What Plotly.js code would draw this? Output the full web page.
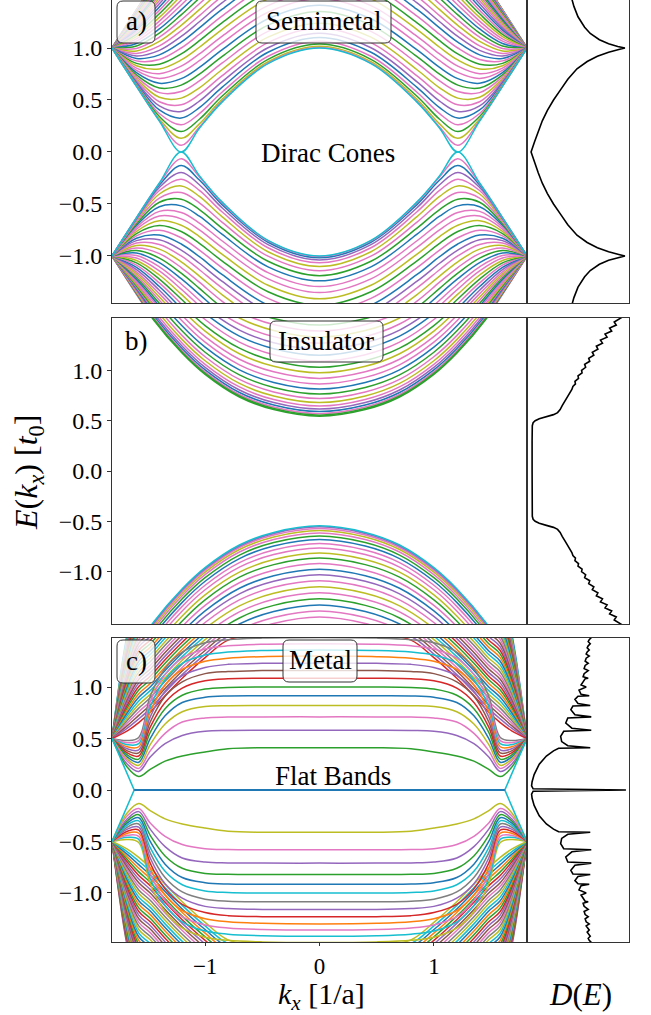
<!DOCTYPE html>
<html><head><meta charset="utf-8">
<script src="https://cdn.plot.ly/plotly-3.0.1.min.js"></script>
<style>html,body{margin:0;padding:0;background:#fff}#chart{width:651px;height:1015px}</style>
</head><body><div id="chart"></div>
<script>
// ================= DATA =================
// Bands are given at kx >= 0 nodes (the spectrum is symmetric in kx and in E).
// Panel a) Semimetal: upper bands, innermost first
const kxNodesA = [0, 0.45, 0.85, 1.05, 1.209, 1.4, 1.6, 1.814];
const bandsA = [
  [1.000, 0.850, 0.482, 0.228, 0.000, 0.298, 0.631, 1.0],
  [1.004, 0.855, 0.489, 0.240, 0.065, 0.303, 0.632, 1.0],
  [1.017, 0.868, 0.508, 0.270, 0.131, 0.318, 0.636, 1.0],
  [1.038, 0.891, 0.538, 0.315, 0.196, 0.341, 0.642, 1.0],
  [1.066, 0.921, 0.577, 0.369, 0.261, 0.370, 0.651, 1.0],
  [1.101, 0.959, 0.624, 0.427, 0.326, 0.404, 0.662, 1.0],
  [1.142, 1.002, 0.677, 0.489, 0.390, 0.443, 0.674, 1.0],
  [1.189, 1.051, 0.734, 0.553, 0.454, 0.483, 0.689, 1.0],
  [1.239, 1.104, 0.793, 0.617, 0.518, 0.526, 0.705, 1.0],
  [1.294, 1.160, 0.856, 0.683, 0.581, 0.571, 0.723, 1.0],
  [1.352, 1.220, 0.919, 0.748, 0.643, 0.616, 0.742, 1.0],
  [1.412, 1.281, 0.984, 0.813, 0.705, 0.661, 0.763, 1.0],
  [1.474, 1.344, 1.049, 0.878, 0.765, 0.707, 0.784, 1.0],
  [1.537, 1.408, 1.115, 0.943, 0.825, 0.753, 0.806, 1.0],
  [1.602, 1.473, 1.180, 1.007, 0.885, 0.799, 0.829, 1.0],
  [1.667, 1.539, 1.245, 1.070, 0.943, 0.844, 0.852, 1.0],
  [1.732, 1.604, 1.309, 1.132, 1.000, 0.889, 0.876, 1.0],
  [1.798, 1.669, 1.373, 1.193, 1.056, 0.934, 0.900, 1.0],
  [1.863, 1.734, 1.436, 1.252, 1.111, 0.977, 0.924, 1.0],
  [1.927, 1.798, 1.498, 1.311, 1.165, 1.020, 0.948, 1.0],
  [1.991, 1.861, 1.559, 1.369, 1.218, 1.063, 0.972, 1.0],
  [2.054, 1.924, 1.618, 1.425, 1.269, 1.104, 0.996, 1.0],
  [2.116, 1.985, 1.676, 1.479, 1.319, 1.144, 1.020, 1.0],
  [2.177, 2.045, 1.733, 1.532, 1.367, 1.183, 1.043, 1.0],
  [2.236, 2.103, 1.788, 1.584, 1.414, 1.222, 1.066, 1.0],
  [2.294, 2.160, 1.841, 1.634, 1.460, 1.259, 1.088, 1.0],
  [2.350, 2.215, 1.893, 1.682, 1.504, 1.294, 1.110, 1.0],
  [2.404, 2.268, 1.943, 1.729, 1.546, 1.329, 1.131, 1.0],
  [2.457, 2.320, 1.991, 1.773, 1.587, 1.362, 1.152, 1.0],
  [2.507, 2.369, 2.037, 1.816, 1.626, 1.394, 1.172, 1.0],
  [2.556, 2.416, 2.081, 1.857, 1.663, 1.425, 1.191, 1.0],
  [2.602, 2.462, 2.123, 1.896, 1.698, 1.454, 1.209, 1.0],
  [2.646, 2.505, 2.163, 1.933, 1.732, 1.481, 1.227, 1.0],
  [2.687, 2.545, 2.201, 1.968, 1.764, 1.507, 1.243, 1.0],
  [2.727, 2.584, 2.236, 2.001, 1.794, 1.532, 1.259, 1.0],
  [2.764, 2.620, 2.270, 2.032, 1.822, 1.555, 1.274, 1.0],
  [2.798, 2.653, 2.301, 2.061, 1.848, 1.576, 1.288, 1.0],
  [2.830, 2.684, 2.329, 2.087, 1.872, 1.596, 1.300, 1.0],
  [2.859, 2.713, 2.356, 2.111, 1.894, 1.614, 1.312, 1.0],
  [2.885, 2.738, 2.379, 2.133, 1.914, 1.631, 1.323, 1.0],
  [2.909, 2.762, 2.401, 2.153, 1.932, 1.645, 1.332, 1.0],
  [2.930, 2.782, 2.420, 2.171, 1.948, 1.659, 1.341, 1.0],
  [2.949, 2.800, 2.436, 2.186, 1.962, 1.670, 1.348, 1.0],
  [2.964, 2.815, 2.450, 2.199, 1.973, 1.680, 1.354, 1.0],
  [2.977, 2.828, 2.462, 2.209, 1.983, 1.688, 1.360, 1.0],
  [2.987, 2.837, 2.471, 2.218, 1.990, 1.694, 1.364, 1.0],
  [2.994, 2.843, 2.477, 2.224, 1.996, 1.698, 1.367, 1.0],
  [2.999, 2.849, 2.481, 2.227, 1.999, 1.701, 1.368, 1.0]
];
// Panel b) Insulator: upper bands, innermost first
const kxNodesB = [0, 0.4, 0.7, 1.0, 1.2, 1.45, 1.65, 1.814];
const bandsB = [
  [0.545, 0.610, 0.735, 0.960, 1.170, 1.500, 1.845, 2.145],
  [0.555, 0.620, 0.745, 0.970, 1.180, 1.510, 1.855, 2.155],
  [0.570, 0.635, 0.760, 0.985, 1.195, 1.525, 1.870, 2.170],
  [0.590, 0.655, 0.780, 1.005, 1.215, 1.545, 1.890, 2.190],
  [0.615, 0.680, 0.805, 1.030, 1.240, 1.570, 1.915, 2.215],
  [0.645, 0.710, 0.835, 1.060, 1.270, 1.600, 1.945, 2.245],
  [0.680, 0.745, 0.870, 1.095, 1.305, 1.635, 1.980, 2.280],
  [0.720, 0.785, 0.910, 1.135, 1.345, 1.675, 2.020, 2.320],
  [0.765, 0.830, 0.955, 1.180, 1.390, 1.720, 2.065, 2.365],
  [0.815, 0.880, 1.005, 1.230, 1.440, 1.770, 2.115, 2.415],
  [0.865, 0.930, 1.055, 1.280, 1.490, 1.820, 2.165, 2.465],
  [0.920, 0.985, 1.110, 1.335, 1.545, 1.875, 2.220, 2.520],
  [0.975, 1.040, 1.165, 1.390, 1.600, 1.930, 2.275, 2.575],
  [1.030, 1.095, 1.220, 1.445, 1.655, 1.985, 2.330, 2.630],
  [1.090, 1.155, 1.280, 1.505, 1.715, 2.045, 2.390, 2.690],
  [1.150, 1.215, 1.340, 1.565, 1.775, 2.105, 2.450, 2.750],
  [1.210, 1.275, 1.400, 1.625, 1.835, 2.165, 2.510, 2.810],
  [1.270, 1.335, 1.460, 1.685, 1.895, 2.225, 2.570, 2.870],
  [1.330, 1.395, 1.520, 1.745, 1.955, 2.285, 2.630, 2.930],
  [1.390, 1.455, 1.580, 1.805, 2.015, 2.345, 2.690, 2.990],
  [1.450, 1.515, 1.640, 1.865, 2.075, 2.405, 2.750, 3.050]
];
// Panel c) Metal: upper bands (Landau-like levels, then higher bands), innermost first
const kxNodesC = [0, 0.5, 0.8, 1.0, 1.2, 1.35, 1.48, 1.58, 1.68, 1.814];
const bandsC = [
  [0.41, 0.41, 0.40, 0.37, 0.33, 0.28, 0.20, 0.13, 0.22, 0.5],
  [0.58, 0.58, 0.578, 0.57, 0.53, 0.45, 0.32, 0.18, 0.25, 0.5],
  [0.71, 0.71, 0.708, 0.70, 0.66, 0.55, 0.38, 0.21, 0.28, 0.5],
  [0.82, 0.82, 0.818, 0.81, 0.76, 0.64, 0.44, 0.24, 0.30, 0.5],
  [0.915, 0.915, 0.913, 0.90, 0.85, 0.72, 0.50, 0.27, 0.32, 0.5],
  [1.0, 1.0, 0.995, 0.98, 0.92, 0.79, 0.56, 0.30, 0.34, 0.5],
  [1.085, 1.085, 1.08, 1.06, 0.99, 0.85, 0.61, 0.33, 0.36, 0.5],
  [1.16, 1.16, 1.15, 1.13, 1.05, 0.91, 0.66, 0.36, 0.38, 0.5],
  [1.23, 1.23, 1.22, 1.19, 1.11, 0.96, 0.71, 0.39, 0.40, 0.5],
  [1.30, 1.295, 1.28, 1.25, 1.17, 1.02, 0.76, 0.42, 0.42, 0.5],
  [1.36, 1.355, 1.34, 1.31, 1.23, 1.07, 0.81, 0.45, 0.44, 0.5],
  [1.42, 1.415, 1.40, 1.37, 1.28, 1.12, 0.86, 0.48, 0.46, 0.5],
  [1.48, 1.475, 1.46, 1.43, 1.34, 1.18, 0.91, 0.51, 0.48, 0.5],
  [1.535, 1.515, 1.455, 1.285, 1.085, 0.915, 0.755, 0.655, 0.575, 0.5],
  [1.57, 1.55, 1.49, 1.32, 1.12, 0.95, 0.79, 0.69, 0.60, 0.5],
  [1.605, 1.585, 1.525, 1.355, 1.155, 0.985, 0.825, 0.725, 0.625, 0.5],
  [1.64, 1.62, 1.56, 1.39, 1.19, 1.02, 0.86, 0.76, 0.65, 0.5],
  [1.675, 1.655, 1.595, 1.425, 1.225, 1.055, 0.895, 0.795, 0.675, 0.5],
  [1.71, 1.69, 1.63, 1.46, 1.26, 1.09, 0.93, 0.83, 0.70, 0.5],
  [1.745, 1.725, 1.665, 1.495, 1.295, 1.125, 0.965, 0.865, 0.725, 0.5],
  [1.78, 1.76, 1.70, 1.53, 1.33, 1.16, 1.00, 0.90, 0.75, 0.5],
  [1.815, 1.795, 1.735, 1.565, 1.365, 1.195, 1.035, 0.935, 0.775, 0.5],
  [1.85, 1.83, 1.77, 1.60, 1.40, 1.23, 1.07, 0.97, 0.80, 0.5],
  [1.885, 1.865, 1.805, 1.635, 1.435, 1.265, 1.105, 1.005, 0.825, 0.5],
  [1.92, 1.90, 1.84, 1.67, 1.47, 1.30, 1.14, 1.04, 0.85, 0.5],
  [1.955, 1.935, 1.875, 1.705, 1.505, 1.335, 1.175, 1.075, 0.875, 0.5],
  [1.99, 1.97, 1.91, 1.74, 1.54, 1.37, 1.21, 1.11, 0.90, 0.5],
  [2.025, 2.005, 1.945, 1.775, 1.575, 1.405, 1.245, 1.145, 0.925, 0.5],
  [2.06, 2.04, 1.98, 1.81, 1.61, 1.44, 1.28, 1.18, 0.95, 0.5],
  [2.095, 2.075, 2.015, 1.845, 1.645, 1.475, 1.315, 1.215, 0.975, 0.5],
  [2.13, 2.11, 2.05, 1.88, 1.68, 1.51, 1.35, 1.25, 1.00, 0.5],
  [2.165, 2.145, 2.085, 1.915, 1.715, 1.545, 1.385, 1.285, 1.025, 0.5],
  [2.20, 2.18, 2.12, 1.95, 1.75, 1.58, 1.42, 1.32, 1.05, 0.5],
  [2.235, 2.215, 2.155, 1.985, 1.785, 1.615, 1.455, 1.355, 1.075, 0.5],
  [2.27, 2.25, 2.19, 2.02, 1.82, 1.65, 1.49, 1.39, 1.10, 0.5],
  [2.305, 2.285, 2.225, 2.055, 1.855, 1.685, 1.525, 1.425, 1.125, 0.5],
  [2.34, 2.32, 2.26, 2.09, 1.89, 1.72, 1.56, 1.46, 1.15, 0.5],
  [2.375, 2.355, 2.295, 2.125, 1.925, 1.755, 1.595, 1.495, 1.175, 0.5],
  [2.41, 2.39, 2.33, 2.16, 1.96, 1.79, 1.63, 1.53, 1.20, 0.5],
  [2.445, 2.425, 2.365, 2.195, 1.995, 1.825, 1.665, 1.565, 1.225, 0.5],
  [2.48, 2.46, 2.40, 2.23, 2.03, 1.86, 1.70, 1.60, 1.25, 0.5],
  [2.515, 2.495, 2.435, 2.265, 2.065, 1.895, 1.735, 1.635, 1.275, 0.5],
  [2.55, 2.53, 2.47, 2.30, 2.10, 1.93, 1.77, 1.67, 1.30, 0.5],
  [2.585, 2.565, 2.505, 2.335, 2.135, 1.965, 1.805, 1.705, 1.325, 0.5],
  [2.62, 2.60, 2.54, 2.37, 2.17, 2.00, 1.84, 1.74, 1.35, 0.5],
  [2.655, 2.635, 2.575, 2.405, 2.205, 2.035, 1.875, 1.775, 1.375, 0.5],
  [2.69, 2.67, 2.61, 2.44, 2.24, 2.07, 1.91, 1.81, 1.40, 0.5],
  [2.725, 2.705, 2.645, 2.475, 2.275, 2.105, 1.945, 1.845, 1.43, 0.5],
  [2.76, 2.74, 2.68, 2.51, 2.31, 2.14, 1.98, 1.88, 1.46, 0.5],
  [2.795, 2.775, 2.715, 2.545, 2.345, 2.175, 2.015, 1.915, 1.49, 0.5],
  [2.83, 2.81, 2.75, 2.58, 2.38, 2.21, 2.05, 1.95, 1.52, 0.5]
];
const nLandau = 13; // first 13 rows of bandsC are the flat Landau-like levels
// Panel c) zero-energy flat band and its edge branches
const zeroK = [-1.814, -1.62, 1.62, 1.814];
const zeroE = [0.5, 0, 0, 0.5];

// Density of states D(E), given for E >= 0 (symmetric in E)
const dosA_E = [0, 0.1, 0.2, 0.3, 0.4, 0.5, 0.6, 0.7, 0.8, 0.87, 0.92, 0.96, 0.985, 1.0, 1.015, 1.04, 1.08, 1.14, 1.2, 1.3, 1.4, 1.47];
const dosA_D = [0.04, 0.075, 0.11, 0.15, 0.2, 0.26, 0.33, 0.40, 0.49, 0.59, 0.69, 0.80, 0.90, 0.96, 0.89, 0.80, 0.71, 0.62, 0.565, 0.50, 0.46, 0.44];
const dosB_E = [0, 0.3, 0.45, 0.48, 0.50, 0.52, 0.54, 0.56, 0.58, 0.61, 0.65, 0.70, 0.75, 0.78, 0.81, 0.84, 0.865, 0.89, 0.92, 0.945, 0.975, 1.0, 1.03, 1.06, 1.09, 1.12, 1.15, 1.18, 1.21, 1.24, 1.27, 1.30, 1.33, 1.36, 1.39, 1.42, 1.45, 1.48, 1.53];
const dosB_D = [0.05, 0.05, 0.052, 0.06, 0.08, 0.12, 0.19, 0.26, 0.30, 0.325, 0.345, 0.375, 0.405, 0.42, 0.44, 0.45, 0.475, 0.47, 0.505, 0.50, 0.54, 0.535, 0.575, 0.565, 0.615, 0.605, 0.655, 0.64, 0.695, 0.68, 0.74, 0.72, 0.785, 0.765, 0.83, 0.81, 0.875, 0.855, 0.935];
const dosC_E = [0, 0.012, 0.04, 0.08, 0.15, 0.25, 0.33, 0.38, 0.405, 0.41, 0.43, 0.47, 0.52, 0.57, 0.58, 0.60, 0.65, 0.70, 0.71, 0.73, 0.78, 0.815, 0.82, 0.84, 0.88, 0.91, 0.915, 0.93, 0.97, 1.0, 1.02, 1.05, 1.08, 1.085, 1.10, 1.13, 1.16, 1.18, 1.21, 1.23, 1.25, 1.28, 1.30, 1.32, 1.34, 1.36, 1.38, 1.40, 1.42, 1.44, 1.46, 1.48, 1.5];
const dosC_D = [0.97, 0.06, 0.045, 0.05, 0.07, 0.12, 0.19, 0.26, 0.31, 0.62, 0.40, 0.34, 0.33, 0.36, 0.63, 0.44, 0.38, 0.40, 0.63, 0.47, 0.43, 0.45, 0.62, 0.50, 0.47, 0.50, 0.61, 0.53, 0.51, 0.58, 0.53, 0.55, 0.57, 0.60, 0.55, 0.56, 0.60, 0.56, 0.57, 0.60, 0.57, 0.58, 0.61, 0.58, 0.59, 0.61, 0.59, 0.60, 0.62, 0.60, 0.61, 0.63, 0.62];

// Tick labels
const eTickVals = [-1, -0.5, 0, 0.5, 1];
const eTickText = ['\u22121.0', '\u22120.5', '0.0', '0.5', '1.0'];
const kTickVals = [-1, 0, 1];
const kTickText = ['\u22121', '0', '1'];

// Texts
const panelLabels = ['a)', 'b)', 'c)'];
const phaseNames = ['Semimetal', 'Insulator', 'Metal'];
const noteTexts = ['Dirac Cones', 'Flat Bands'];

// ================= STYLE =================
const FONT = "'Liberation Serif', 'Times New Roman', Times, serif";
const tab10 = ['#1f77b4','#ff7f0e','#2ca02c','#d62728','#9467bd','#8c564b','#e377c2','#7f7f7f','#bcbd22','#17becf'];
const cycAB = ['#e377c2','#bcbd22','#2ca02c','#e377c2','#1f77b4','#9467bd','#e377c2','#bcbd22','#e377c2','#2ca02c','#1f77b4','#e377c2'];
const cUpCols = ['#2ca02c','#9467bd','#e377c2','#bcbd22','#1f77b4','#2ca02c','#d62728','#8c564b','#9467bd','#ff7f0e','#17becf','#e377c2','#7f7f7f'];
const cDnCols = ['#bcbd22','#e377c2','#9467bd','#2ca02c','#1f77b4','#17becf','#7f7f7f','#9467bd','#d62728','#ff7f0e','#e377c2','#17becf','#bcbd22'];
const LW = 1.5;

// pixel -> paper helpers (plot area: x 112..629, y 0..942)
const PX = x => (x - 112) / 517;
const PY = y => (942 - y) / 942;

function fullK(nodes) { return nodes.slice(1).reverse().map(v => -v).concat(nodes); }
function fullE(vals, s) { return vals.slice(1).reverse().concat(vals).map(v => s * v); }

const traces = [];
function line(x, y, color, xa, ya, shape, w) {
  return {x: x, y: y, xaxis: xa, yaxis: ya, mode: 'lines', hoverinfo: 'skip', showlegend: false,
          line: {color: color, width: w || LW, shape: shape || 'spline', smoothing: 1}};
}
function addBands(bands, nodes, xa, ya, colUp, colDn) {
  const x = fullK(nodes);
  for (let i = bands.length - 1; i >= 0; i--) {
    traces.push(line(x, fullE(bands[i], -1), colDn(i), xa, ya));
    traces.push(line(x, fullE(bands[i], 1), colUp(i), xa, ya));
  }
}
addBands(bandsA, kxNodesA, 'x', 'y',
  i => i === 0 ? '#17becf' : cycAB[(i - 1) % cycAB.length],
  i => i === 0 ? '#17becf' : cycAB[(i + 2) % cycAB.length]);
addBands(bandsB, kxNodesB, 'x3', 'y3',
  i => i === 0 ? '#2ca02c' : cycAB[(i + 1) % cycAB.length],
  i => i === 0 ? '#17becf' : cycAB[(i + 4) % cycAB.length]);
addBands(bandsC, kxNodesC, 'x5', 'y5',
  i => i < nLandau ? cUpCols[i] : tab10[i % 10],
  i => i < nLandau ? cDnCols[i] : tab10[(i + 5) % 10]);
// zero modes
traces.push(line(zeroK, zeroE.map(v => -v), '#17becf', 'x5', 'y5', 'linear', 1.6));
traces.push(line(zeroK, zeroE, '#17becf', 'x5', 'y5', 'linear', 1.6));
traces.push(line(zeroK.slice(1, 3), zeroE.slice(1, 3), '#1f77b4', 'x5', 'y5', 'linear', 2));

function addDos(E, D, xa, ya) {
  const y = fullE(E, 1).map((v, i) => i < E.length - 1 ? -v : v);
  const x = D.slice(1).reverse().concat(D);
  traces.push(line(x, y, '#000', xa, ya, 'linear', 1.6));
}
addDos(dosA_E, dosA_D, 'x2', 'y2');
addDos(dosB_E, dosB_D, 'x4', 'y4');
addDos(dosC_E, dosC_D, 'x6', 'y6');

// ================= LAYOUT =================
const MAINX = [0, PX(527)], DOSX = [PX(527), 1];
const domA = [PY(303), 1], domB = [PY(624), PY(318)], domC = [0, PY(638)];
const rA = [-1.452, 1.4615], rB = [-1.52, 1.52], rC = [-1.476, 1.476];
const frame = {showline: true, mirror: true, linecolor: '#333', linewidth: 1, zeroline: false, showgrid: false, fixedrange: true};
function mainY(dom, r, anchor) {
  return Object.assign({}, frame, {domain: dom, range: r, anchor: anchor, tickmode: 'array', tickvals: eTickVals, ticktext: eTickText,
    ticks: 'outside', ticklen: 4, tickcolor: '#333', tickfont: {family: FONT, size: 24, color: '#000'}});
}
function plainAx(dom, r, anchor) {
  return Object.assign({}, frame, {domain: dom, range: r, anchor: anchor, showticklabels: false, ticks: ''});
}
const kR = [-1.814, 1.814], dR = [0, 1];

function roundRect(x0, y0, x1, y1, r) {
  const a = PX(x0), b = PX(x1), c = PY(y0), d = PY(y1);
  const rx = r / 517, ry = r / 942;
  return 'M' + (a + rx) + ',' + c + ' L' + (b - rx) + ',' + c + ' Q' + b + ',' + c + ' ' + b + ',' + (c - ry) +
    ' L' + b + ',' + (d + ry) + ' Q' + b + ',' + d + ' ' + (b - rx) + ',' + d +
    ' L' + (a + rx) + ',' + d + ' Q' + a + ',' + d + ' ' + a + ',' + (d + ry) +
    ' L' + a + ',' + (c - ry) + ' Q' + a + ',' + c + ' ' + (a + rx) + ',' + c + ' Z';
}
const boxes = [[117, 1, 155, 43], [256, 1, 391, 43], [270, 321, 383, 362], [117, 640, 155, 683], [283, 640, 357, 682]];
const shapes = boxes.map(bx => ({type: 'path', xref: 'paper', yref: 'paper', layer: 'above',
  path: roundRect(bx[0], bx[1], bx[2], bx[3], 6), fillcolor: 'rgba(255,255,255,0.78)', line: {color: '#333', width: 1}}));

function txt(text, x, y, size, extra) {
  return Object.assign({text: text, xref: 'paper', yref: 'paper', x: PX(x), y: PY(y), xanchor: 'center', yanchor: 'middle',
    showarrow: false, font: {family: FONT, size: size, color: '#000'}}, extra || {});
}
const annotations = [
  txt(panelLabels[0], 136, 21, 27), txt(phaseNames[0], 323, 21, 27), txt(noteTexts[0], 328, 153, 27),
  txt(panelLabels[1], 136, 341, 27), txt(phaseNames[1], 326, 341, 27),
  txt(panelLabels[2], 136, 661, 27), txt(phaseNames[2], 320, 660, 27), txt(noteTexts[1], 333, 776, 27),
  txt('<i>E</i>(<i>k<sub>x</sub></i>) [<i>t</i><sub>0</sub>]', 28, 473, 32, {textangle: -90}),
  txt('<i>k<sub>x</sub></i> [1/a]', 321, 996, 30),
  txt('<i>D</i>(<i>E</i>)', 580, 994, 31)
];

const layout = {
  width: 651, height: 1015, margin: {l: 112, r: 22, t: 0, b: 73},
  paper_bgcolor: '#fff', plot_bgcolor: '#fff', showlegend: false,
  font: {family: FONT, color: '#000', size: 24},
  xaxis: plainAx(MAINX, kR, 'y'), yaxis: mainY(domA, rA, 'x'),
  xaxis2: plainAx(DOSX, dR, 'y2'), yaxis2: plainAx(domA, rA, 'x2'),
  xaxis3: plainAx(MAINX, kR, 'y3'), yaxis3: mainY(domB, rB, 'x3'),
  xaxis4: plainAx(DOSX, dR, 'y4'), yaxis4: plainAx(domB, rB, 'x4'),
  xaxis5: Object.assign({}, frame, {domain: MAINX, range: kR, anchor: 'y5', tickmode: 'array', tickvals: kTickVals, ticktext: kTickText,
    ticks: 'outside', ticklen: 3, tickcolor: '#333', tickfont: {family: FONT, size: 23, color: '#000'}}),
  yaxis5: mainY(domC, rC, 'x5'),
  xaxis6: plainAx(DOSX, dR, 'y6'), yaxis6: plainAx(domC, rC, 'x6'),
  shapes: shapes, annotations: annotations
};
Plotly.newPlot('chart', traces, layout, {staticPlot: true, displayModeBar: false});
</script>
</body></html>
